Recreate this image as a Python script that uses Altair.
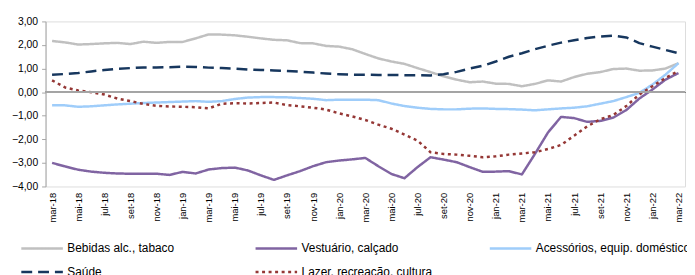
import altair as alt
import pandas as pd

meses_pt = ["jan", "fev", "mar", "abr", "mai", "jun", "jul", "ago", "set", "out", "nov", "dez"]
meses = []
for ano in range(18, 23):
    for m in range(12):
        if (ano == 18 and m < 2) or (ano == 22 and m > 2):
            continue
        meses.append(f"{meses_pt[m]}-{ano}")

bebidas = [2.17, 2.11, 2.02, 2.04, 2.07, 2.09, 2.04, 2.14, 2.09, 2.13, 2.13, 2.28,
           2.45, 2.44, 2.41, 2.35, 2.28, 2.22, 2.20, 2.08, 2.07, 1.96, 1.93, 1.82,
           1.62, 1.43, 1.30, 1.20, 1.02, 0.85, 0.67, 0.53, 0.42, 0.45, 0.36, 0.35,
           0.25, 0.35, 0.50, 0.45, 0.64, 0.78, 0.85, 0.98, 1.00, 0.91, 0.92, 1.00, 1.23]
vestuario = [-3.00, -3.15, -3.29, -3.37, -3.42, -3.45, -3.46, -3.46, -3.46, -3.51, -3.38, -3.45,
             -3.28, -3.22, -3.20, -3.32, -3.53, -3.72, -3.53, -3.35, -3.14, -2.97, -2.90, -2.85,
             -2.79, -3.14, -3.47, -3.65, -3.18, -2.76, -2.86, -2.97, -3.18, -3.38, -3.37, -3.35,
             -3.49, -2.62, -1.71, -1.05, -1.10, -1.26, -1.22, -1.08, -0.76, -0.27, 0.11, 0.53, 0.81]
acessorios = [-0.56, -0.56, -0.62, -0.60, -0.56, -0.52, -0.49, -0.46, -0.44, -0.42, -0.40, -0.38,
              -0.41, -0.38, -0.29, -0.23, -0.21, -0.21, -0.22, -0.25, -0.28, -0.34, -0.32, -0.32,
              -0.32, -0.34, -0.48, -0.59, -0.66, -0.71, -0.73, -0.73, -0.70, -0.69, -0.71, -0.72,
              -0.74, -0.77, -0.73, -0.69, -0.66, -0.60, -0.49, -0.38, -0.21, -0.03, 0.32, 0.74, 1.23]
saude = [0.74, 0.77, 0.81, 0.88, 0.94, 0.99, 1.02, 1.05, 1.05, 1.06, 1.08, 1.07,
         1.04, 1.02, 1.00, 0.96, 0.94, 0.92, 0.90, 0.87, 0.83, 0.79, 0.76, 0.74,
         0.74, 0.73, 0.73, 0.72, 0.72, 0.71, 0.76, 0.86, 1.00, 1.12, 1.30, 1.50,
         1.65, 1.82, 1.97, 2.10, 2.20, 2.30, 2.36, 2.40, 2.32, 2.08, 1.93, 1.79, 1.65]
lazer = [0.50, 0.20, 0.07, 0.00, -0.10, -0.27, -0.38, -0.50, -0.58, -0.61, -0.62, -0.64,
         -0.69, -0.49, -0.47, -0.48, -0.46, -0.44, -0.55, -0.60, -0.66, -0.74, -0.90, -1.03,
         -1.18, -1.38, -1.55, -1.80, -2.05, -2.55, -2.62, -2.65, -2.70, -2.76, -2.72, -2.65,
         -2.60, -2.55, -2.41, -2.24, -1.85, -1.45, -1.15, -0.97, -0.59, -0.10, 0.25, 0.60, 0.90]

series = ["Bebidas alc., tabaco", "Vestuário, calçado", "Acessórios, equip. doméstico",
          "Saúde", "Lazer, recreação, cultura"]
valores = [bebidas, vestuario, acessorios, saude, lazer]
cores = ["#c0c0c0", "#8064a2", "#9fcdfa", "#17375e", "#953735"]
tracos = [[1, 0], [1, 0], [1, 0], [11, 6], [3, 3.6]]
larguras = [2.5, 2.5, 3.5, 4.5, 3]
ticks_y = [-4, -3, -2, -1, 0, 1, 2, 3]

rows = []
for s, vals in zip(series, valores):
    for m, v in zip(meses, vals):
        rows.append({"mes": m, "serie": s, "valor": v})
df = pd.DataFrame(rows)

font = "Liberation Sans"

x = alt.X("mes:O", sort=meses, title=None,
          scale=alt.Scale(type="point", padding=0.5),
          axis=alt.Axis(values=meses[::2], labelAngle=270, domain=False, ticks=False,
                        labelPadding=6, labelFontSize=9.5, labelColor="#000000", labelFont=font,
                        labelOverlap=False))
y_scale = alt.Scale(domain=[-4, 3], nice=False, zero=False)
y_axis = alt.Axis(values=ticks_y, grid=False, domainColor="#a6a6a6",
                  tickColor="#a6a6a6", tickSize=4, labelPadding=4, labelFontSize=10.5,
                  labelColor="#000000", labelFont=font, labelOverlap=False,
                  labelExpr="replace(format(datum.value, '.2f'), '.', ',')")
y = alt.Y("valor:Q", title=None, scale=y_scale, axis=y_axis)

legend = alt.Legend(title=None, orient="none", legendX=-2, legendY=219, columns=3,
                    direction="horizontal", symbolType="M-3.67,0H1", symbolSize=324,
                    gridAlign="all", columnPadding=28, rowPadding=7, labelFontSize=12,
                    labelFont=font, labelColor="#000000", labelLimit=300, labelOffset=3)

lines = alt.Chart(df).mark_line(strokeJoin="round").encode(
    x=x, y=y,
    color=alt.Color("serie:N", sort=series, scale=alt.Scale(domain=series, range=cores), legend=legend),
    strokeDash=alt.StrokeDash("serie:N", sort=series, scale=alt.Scale(domain=series, range=tracos), legend=legend),
    strokeWidth=alt.StrokeWidth("serie:N", sort=series, scale=alt.Scale(domain=series, range=larguras), legend=legend),
)

zero = alt.Chart(df).mark_rule(color="#a6a6a6", strokeWidth=1).encode(
    y=alt.Y(datum=0, type="quantitative", title=None, scale=y_scale, axis=y_axis)
)

chart = alt.layer(lines, zero).properties(
    width=647, height=167,
    autosize=alt.AutoSizeParams(type="none"),
    padding={"left": 38, "top": 12, "right": 2, "bottom": 88},
).configure_view(stroke=None).configure(background="white")

chart.save("out.html", embed_options={"renderer": "svg", "actions": False})
